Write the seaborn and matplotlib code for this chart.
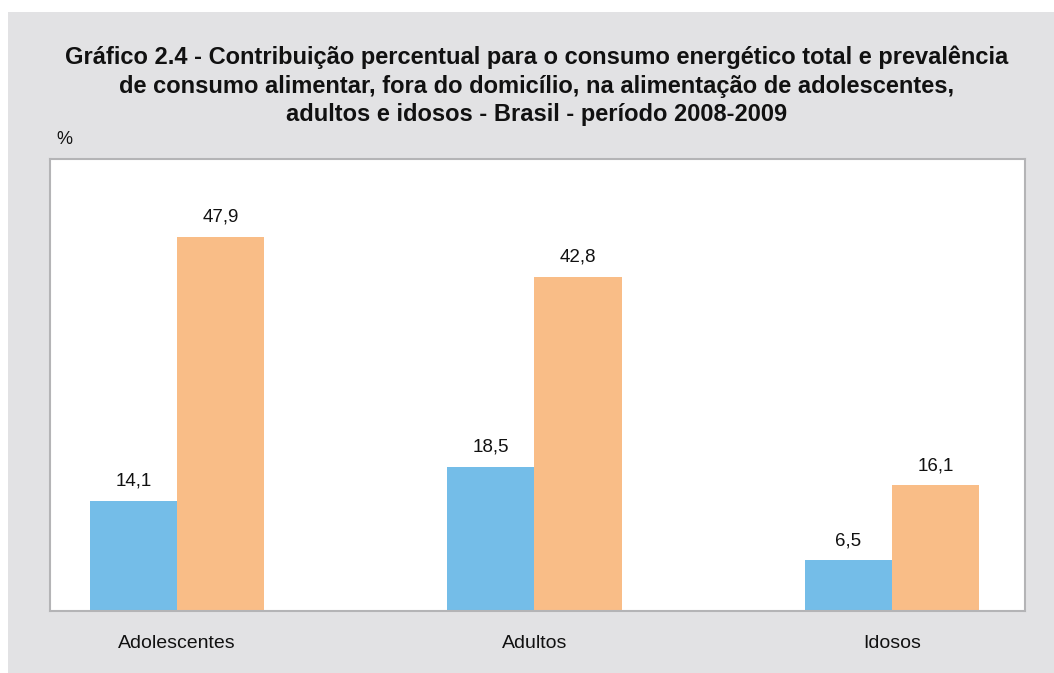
import matplotlib
matplotlib.use("Agg")
import matplotlib.pyplot as plt
from matplotlib.patches import Rectangle
import seaborn as sns
import pandas as pd

categories = ["Adolescentes", "Adultos", "Idosos"]
series_names = ["Contribuição para o consumo energético total",
                "Prevalência de consumo alimentar fora do domicílio"]
energia = [14.1, 18.5, 6.5]
prevalencia = [47.9, 42.8, 16.1]
title = ("Gráfico 2.4 - Contribuição percentual para o consumo energético total e prevalência\n"
         "de consumo alimentar, fora do domicílio, na alimentação de adolescentes,\n"
         "adultos e idosos - Brasil - período 2008-2009")

df = pd.DataFrame({
    "grupo": categories * 2,
    "serie": [series_names[0]] * 3 + [series_names[1]] * 3,
    "valor": energia + prevalencia,
})

sns.set_theme(style="white")
plt.rcParams['font.family'] = ['Liberation Sans', 'DejaVu Sans']

W, H = 1054, 673
fig = plt.figure(figsize=(W / 100, H / 100), dpi=100, facecolor="white")
fig.patches.append(Rectangle((8 / W, 0), 1 - 8 / W, (H - 12) / H,
                             transform=fig.transFigure, facecolor="#e2e2e4",
                             edgecolor="none", zorder=-10))
ax = fig.add_axes([50 / W, 1 - 611 / H, (1025 - 50) / W, (611 - 159) / H])
ax.set_facecolor("white")

sns.barplot(data=df, x="grupo", y="valor", hue="serie", ax=ax,
            palette=["#74bde8", "#f9bd87"], width=0.487, gap=0,
            saturation=1, legend=False, errorbar=None, linewidth=0)

for cont in ax.containers:
    labels = [f"{b.get_height():.1f}".replace(".", ",") for b in cont]
    ax.bar_label(cont, labels=labels, padding=8, fontsize=13.5, color="#111111")

ax.set_xlim(-0.355, 2.372)
ax.set_ylim(0, 57.9)
ax.set_yticks([])
ax.set_xlabel("")
ax.set_ylabel("")
ax.tick_params(axis="x", length=0, labelsize=14, pad=17, colors="#111111")
for s in ax.spines.values():
    s.set_color("#b4b4b6")
    s.set_linewidth(1.5)

fig.text(537 / W, 1 - 86 / H, title, ha="center", va="center",
         fontsize=17, fontweight="bold", color="#111111", linespacing=1.3)
fig.text(56 / W, 1 - 140 / H, "%", ha="left", va="center", fontsize=13,
         color="#111111")

fig.savefig("out.png", dpi=100, facecolor="white")
